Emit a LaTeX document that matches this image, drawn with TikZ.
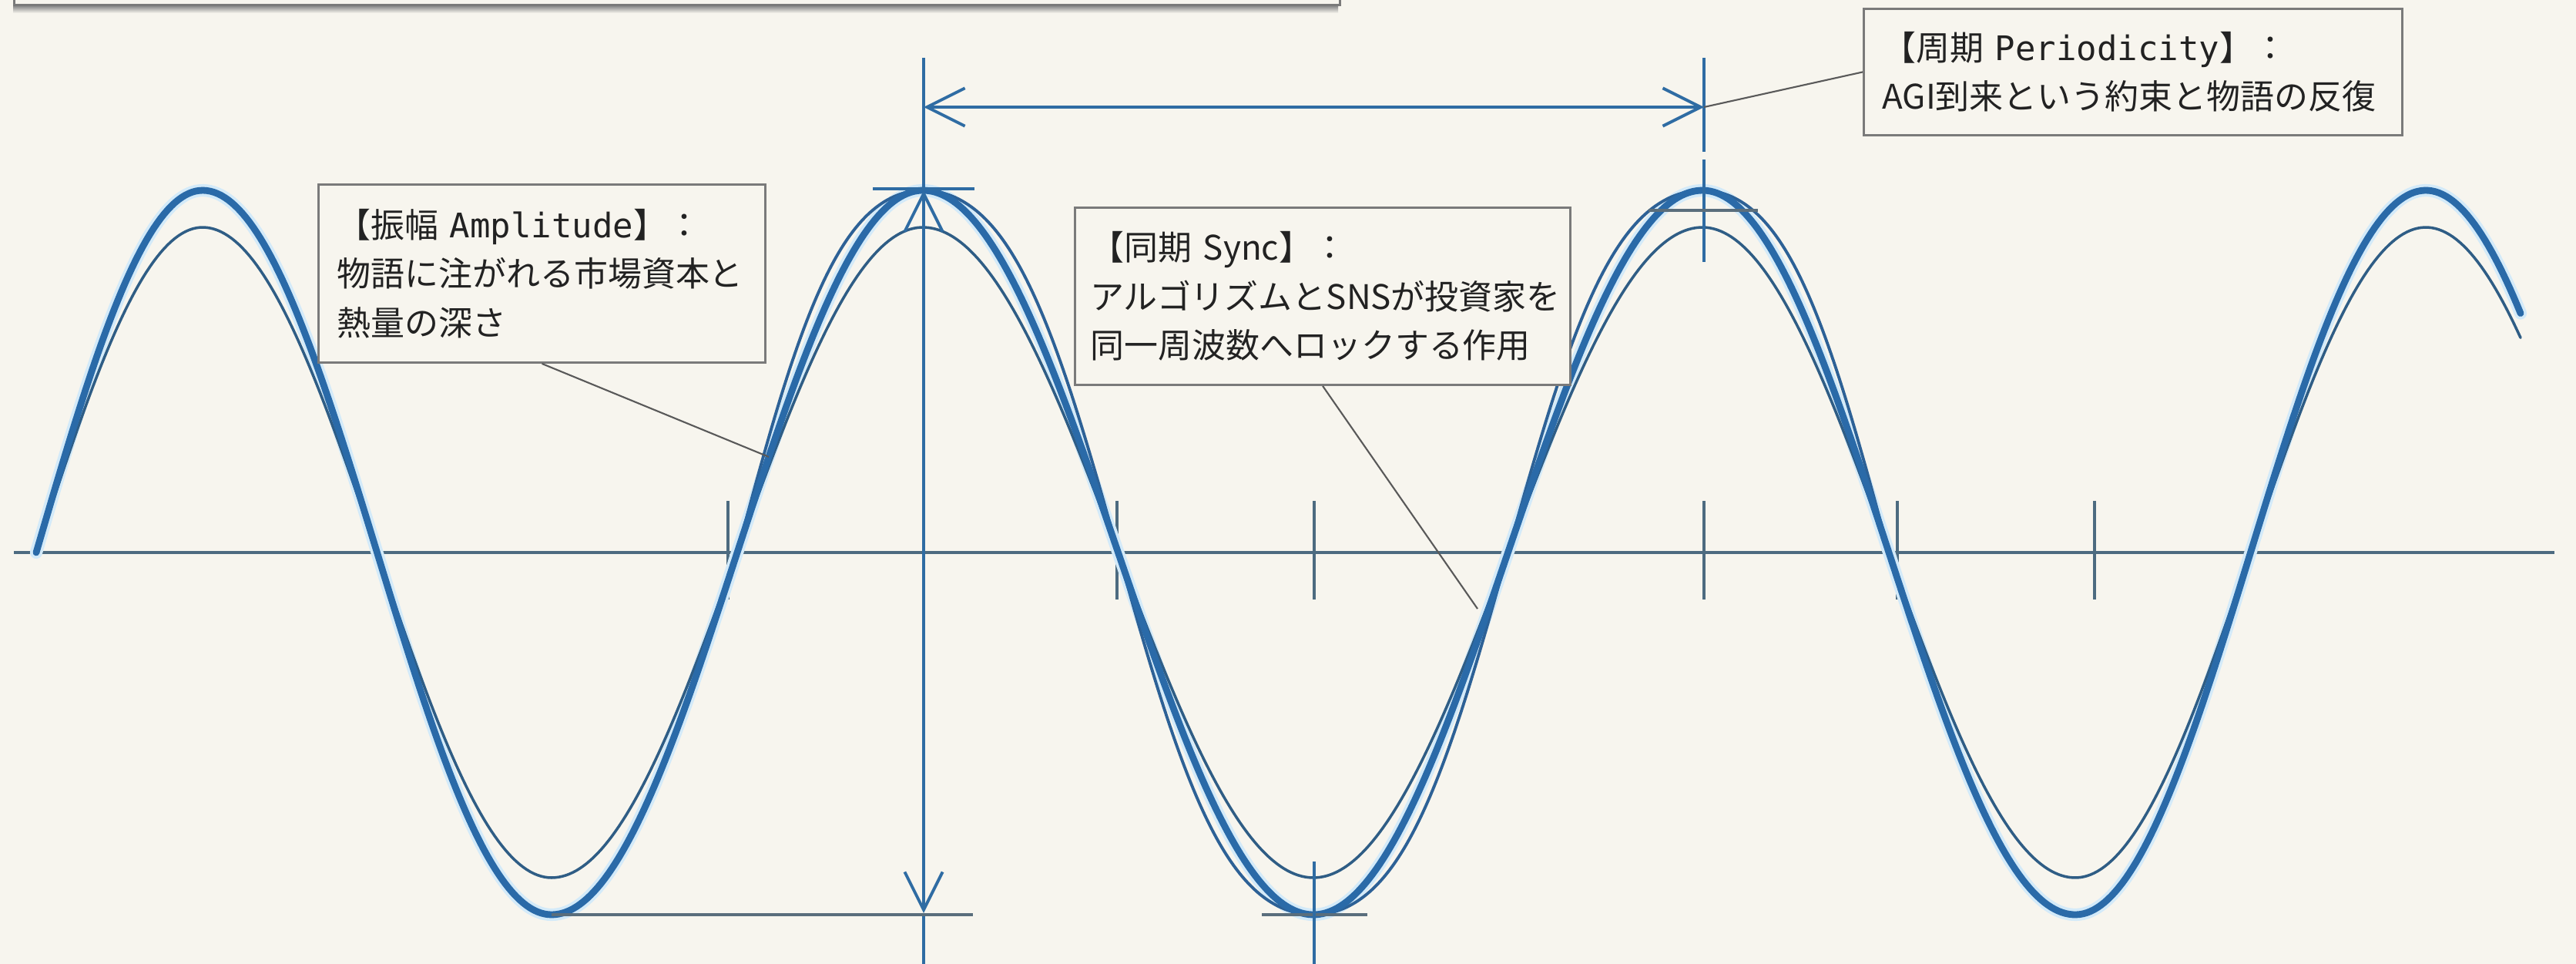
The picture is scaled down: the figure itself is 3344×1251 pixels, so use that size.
\documentclass[tikz,border=0pt]{standalone}
\usepackage{fontspec}
\setmainfont{Noto Sans CJK JP}
\newfontfamily\monof{DejaVu Sans Mono}
\usetikzlibrary{arrows.meta}
\definecolor{paper}{HTML}{F7F5EE}
\definecolor{wavethick}{HTML}{2A6AA8}
\definecolor{wavemid}{HTML}{2D6196}
\definecolor{wavethin}{HTML}{2F5D85}
\definecolor{halo}{HTML}{D3EAF9}
\definecolor{axiscol}{HTML}{4D6B80}
\definecolor{annot}{HTML}{2F6CA3}
\definecolor{grayline}{HTML}{5A6E7C}
\definecolor{boxline}{HTML}{7A7A7A}
\definecolor{textcol}{HTML}{222222}
\begin{document}
\begin{tikzpicture}[x=0.01cm,y=-0.01cm,
  declare function={
    ph(\x)=(\x<263)?((\x-47)/216*90):((\x<716)?(90+(\x-263)/453*180):((\x<1198)?(270+(\x-716)/482*180):((\x<1705)?(450+(\x-1198)/507*180):((\x<2210)?(630+(\x-1705)/505*180):((\x<2694)?(810+(\x-2210)/484*180):(990+(\x-2694)/455*180))))));
    wA(\x)=717-470*sin(ph(\x));
    wC(\x)=717-422*sin(ph(\x));
    gB(\s)=\s*(1+0.22*(1-\s*\s));
    wB(\x)=717-470*gB(sin(ph(\x)));
  }]
\tikzset{
  box/.style={draw=boxline, line width=0.8pt, fill=paper, anchor=north west,
    align=left, text=textcol, inner ysep=0pt,
    font=\fontsize{12.5pt}{18pt}\selectfont},
  conn/.style={draw=black!65, line width=0.6pt},
  thickwave/.style={draw=wavethick, line width=2.5pt, line cap=round, line join=round},
  halowave/.style={draw=halo, line width=4.6pt, line cap=round},
  midwave/.style={draw=wavemid, line width=1.1pt},
  thinwave/.style={draw=wavethin, line width=1.0pt, line cap=round},
  axisline/.style={draw=axiscol, line width=1.1pt},
  annotline/.style={draw=annot, line width=1.1pt},
  grayrule/.style={draw=grayline, line width=1.4pt},
  barbs/.style={{Straight Barb[length=14pt,width=14pt]}-{Straight Barb[length=14pt,width=14pt]}}
}
% background and bounding box
\fill[paper] (0,0) rectangle (3344,1251);
\useasboundingbox (0,0) rectangle (3344,1251);

% partial box at the top
\fill[top color=black!45, bottom color=paper] (17,8) rectangle (1737,17);
\node[draw=boxline, line width=0.8pt, fill=paper, anchor=south west, minimum width=17.20cm, minimum height=0.6cm, inner sep=0pt] (topbox) at (17,8) {};

% axis
\coordinate (axl) at (18,717);
\coordinate (axr) at (3316,717);
\draw[axisline] (axl) -- (axr);
\foreach \tx in {945,1450,1706,2212,2463,2719}{
  \draw[axisline] (\tx,650) -- (\tx,778);
}

% waves
\draw[halowave] plot[domain=47:3272, samples=700, variable=\t] (\t,{wA(\t)});
\draw[thinwave] plot[domain=47:3272, samples=700, variable=\t] (\t,{wC(\t)});
\draw[midwave] plot[domain=957:2452, samples=400, variable=\t] (\t,{wB(\t)});
\draw[thickwave] plot[domain=47:3272, samples=700, variable=\t] (\t,{wA(\t)});

% amplitude markers at peak 2 / trough 1
\coordinate (vtop) at (1199,75);
\coordinate (atop) at (1199,247);
\coordinate (abot) at (1199,1185);
\coordinate (vbot) at (1199,1251);
\draw[annotline] (vtop) -- (atop);
\draw[annotline, barbs] (atop) -- (abot);
\draw[annotline] (abot) -- (vbot);
\draw[annotline, line width=1.3pt] (1133,245) -- (1265,245);
\draw[grayrule] (716,1187) -- (1263,1187);

% trough 2 markers
\draw[grayrule] (1638,1187) -- (1775,1187);
\draw[annotline] (1706,1118) -- (1706,1251);

% peak 3 markers
\coordinate (p3top) at (2212,75);
\coordinate (p3bot) at (2212,340);
\draw[annotline] (p3top) -- (2212,197);
\draw[annotline] (2212,207) -- (p3bot);
\draw[grayrule] (2140,273) -- (2282,273);

% period arrow
\coordinate (hl) at (1199,139);
\coordinate (pertip) at (2212,139);
\draw[annotline, barbs] (hl) -- (pertip);

% callout boxes
\node[box, minimum width=5.80cm, minimum height=2.31cm, text width=5.32cm, inner xsep=0.24cm] (amp) at (412,238)
  {【振幅 {\monof Amplitude}】：\\物語に注がれる市場資本と\\熱量の深さ};
\node[box, minimum width=6.43cm, minimum height=2.30cm, text width=6.03cm, inner xsep=0.20cm] (sync) at (1394,268)
  {【同期 Sync】：\\アルゴリズムとSNSが投資家を\\同一周波数へロックする作用};
\node[box, minimum width=6.99cm, minimum height=1.64cm, text width=6.51cm, inner xsep=0.24cm] (per) at (2418,10)
  {【周期 {\monof Periodicity}】：\\AGI到来という約束と物語の反復};

% connectors
\coordinate (ampend) at (998,{wA(998)});
\coordinate (syncend) at (1918,790);
\draw[conn] (amp.south) -- (ampend);
\draw[conn] (sync.south) -- (syncend);
\draw[conn] (per.west) -- (pertip);
\end{tikzpicture}
\end{document}
